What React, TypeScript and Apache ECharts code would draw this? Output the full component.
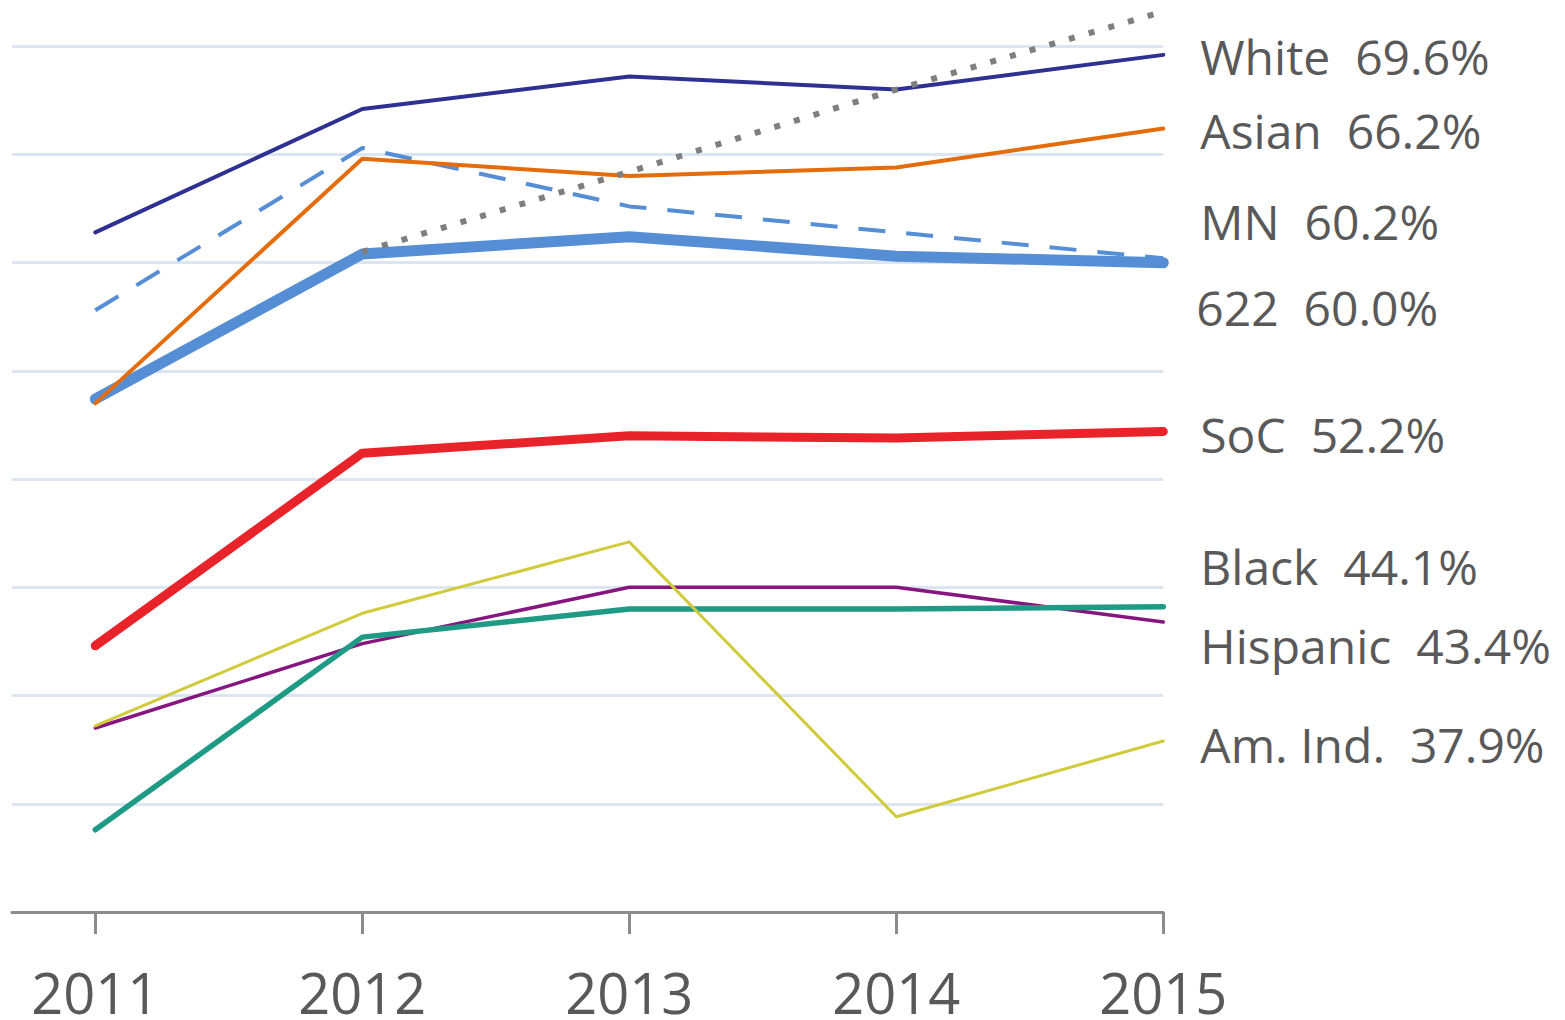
import React, { useEffect, useRef } from "react";
import * as echarts from "echarts";

const years = [2011, 2012, 2013, 2014, 2015];
const white = [61.4, 67.1, 68.6, 68.0, 69.6];
const asian = [53.5, 64.8, 64.0, 64.4, 66.2];
const mn = [57.8, 65.3, 62.6, 61.4, 60.2];
const d622 = [53.7, 60.4, 61.2, 60.3, 60.0];
const goal = [null, 60.5, 64.2, 68.0, 71.6];
const soc = [42.3, 51.2, 52.0, 51.9, 52.2];
const black = [33.8, 42.7, 44.0, 44.0, 44.1];
const hispanic = [38.5, 42.4, 45.0, 45.0, 43.4];
const amInd = [38.6, 43.8, 47.1, 34.4, 37.9];

const FONT = "'Open Sans', 'Noto Sans', sans-serif";
const TEXT = "#595959";

type Cfg = {
  name: string;
  data: (number | null)[];
  color: string;
  width: number;
  dash?: number[];
  label?: [number, number];
};

const seriesCfg: Cfg[] = [
  { name: "622", data: d622, color: "#558ED5", width: 11, label: [33, 45] },
  { name: "MN", data: mn, color: "#558ED5", width: 4, dash: [27, 21], label: [37, -37] },
  { name: "Asian", data: asian, color: "#E46C0A", width: 4, label: [37, 2] },
  { name: "White", data: white, color: "#2E3192", width: 4, label: [37, 2] },
  { name: "Goal", data: goal, color: "#7F7F7F", width: 6, dash: [6, 14.5] },
  { name: "SoC", data: soc, color: "#E8232A", width: 9, label: [37, 3] },
  { name: "Hispanic", data: hispanic, color: "#87157F", width: 3.5, label: [37, 24] },
  { name: "Black", data: black, color: "#1F9B85", width: 5.5, label: [37, -40] },
  { name: "Am. Ind.", data: amInd, color: "#CFCB3A", width: 3, label: [37, 3.5] },
];

export default function App() {
  const ref = useRef<HTMLDivElement>(null);
  useEffect(() => {
    if (!ref.current) return;
    const chart = echarts.init(ref.current, null, { renderer: "svg" });
    chart.setOption({
      animation: false,
      backgroundColor: "#ffffff",
      grid: { left: 12, right: 401.7, top: 0, bottom: 107.5, containLabel: false },
      xAxis: {
        type: "value",
        min: 2010.688,
        max: 2015,
        axisLine: { show: true, lineStyle: { color: "#8C8C8C", width: 3 } },
        axisTick: {
          show: true,
          customValues: years,
          length: 22,
          lineStyle: { color: "#8C8C8C", width: 3 },
        },
        axisLabel: {
          customValues: years,
          formatter: (v: number) => String(v),
          margin: 52,
          fontSize: 56,
          lineHeight: 56,
          color: TEXT,
          fontFamily: FONT,
        },
        splitLine: { show: false },
      },
      yAxis: {
        type: "value",
        min: 30,
        max: 75,
        interval: 5,
        axisLine: { show: false },
        axisTick: { show: false },
        axisLabel: { show: false },
        splitLine: { lineStyle: { color: "#DCE6F2", width: 3 } },
      },
      series: seriesCfg.map((c) => ({
        name: c.name,
        type: "line",
        data: years.map((y, i) => [y, c.data[i]]),
        showSymbol: false,
        symbol: "none",
        connectNulls: false,
        lineStyle: {
          color: c.color,
          width: c.width,
          type: c.dash ? c.dash : "solid",
          cap: c.dash ? "butt" : "round",
          join: "round",
        },
        endLabel: c.label
          ? {
              show: true,
              distance: 0,
              offset: c.label,
              formatter: (p: any) => `${p.seriesName}  ${Number(p.value[1]).toFixed(1)}%`,
              fontSize: 48,
              color: TEXT,
              fontFamily: FONT,
            }
          : { show: false },
      })),
    });
    return () => chart.dispose();
  }, []);
  return (
    <div
      ref={ref}
      style={{ position: "fixed", left: 0, top: -62, width: 1565, height: 1082 }}
    />
  );
}
